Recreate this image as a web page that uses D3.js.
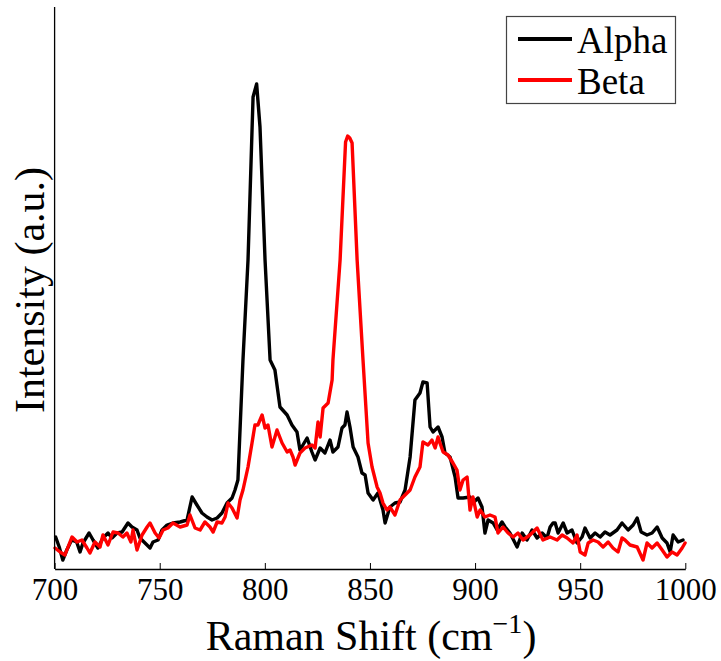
<!DOCTYPE html>
<html><head><meta charset="utf-8">
<script src="https://cdn.jsdelivr.net/npm/d3@7"></script>
<style>
html,body{margin:0;padding:0;background:#fff;}
svg{display:block;}
text{font-family:"Liberation Serif","DejaVu Serif",serif;fill:#000;}
</style></head>
<body>
<svg id="chart" width="721" height="661"></svg>
<script>
// Raman shift (cm^-1) and intensity (a.u.)
const alphaShift = [700.5,702.2,703.9,705.8,708.1,710.5,712.1,713.5,716.4,718.3,720.6,723.0,725.4,727.3,729.7,732.1,734.9,736.8,739.2,740.6,743.0,745.4,746.8,749.2,751.1,753.5,756.3,759.7,763.0,765.4,767.7,770.1,772.5,774.9,777.3,779.6,782.0,784.4,785.8,787.2,789.6,792.0,794.4,796.1,797.7,800.1,802.5,804.8,807.2,810.6,812.9,815.3,816.7,820.1,822.4,823.9,826.3,828.6,831.0,832.4,834.8,836.7,838.1,839.1,840.5,842.0,844.3,846.2,847.7,849.1,851.5,853.8,856.2,857.2,859.5,861.9,864.3,866.7,869.1,871.4,873.8,875.2,877.2,878.6,880.0,882.4,884.3,885.7,888.1,890.5,891.9,894.3,897.6,899.0,901.4,903.3,904.7,906.2,908.6,910.5,912.8,914.3,916.6,920.0,922.4,924.7,927.1,929.5,931.9,934.2,935.7,937.1,938.1,939.5,941.9,943.8,946.1,948.5,950.9,952.3,954.7,957.1,959.5,961.8,964.2,967.5,969.9,972.8,975.2,977.1,979.0,981.8,984.2,986.6,989.0,991.3,992.8,994.2,996.6,998.9];
const alphaIntensity = [32,22,9,19,29,27,17,26,36,29,21,31,36,31,36,37,46,42,39,31,26,21,27,29,39,44,46,47,49,72,64,56,52,49,51,56,66,71,79,89,209,309,472,485,442,309,209,199,162,154,144,137,119,131,117,109,121,116,129,117,122,141,144,157,142,122,112,96,94,76,69,76,59,46,62,66,67,79,112,169,176,187,186,142,137,142,132,116,112,92,71,71,72,66,71,62,36,49,46,39,47,42,36,22,36,29,39,31,36,31,42,46,46,36,46,36,39,26,32,41,31,36,32,37,34,39,46,39,44,51,37,34,36,42,31,26,17,34,27,29];

const betaShift = [700.2,702.6,704.9,706.4,708.3,710.7,713.0,715.4,716.8,719.2,721.6,723.0,725.4,727.8,730.2,732.5,734.4,736.3,737.3,739.2,741.6,744.0,745.4,747.8,749.7,751.6,753.9,756.3,759.7,763.0,764.4,766.8,769.2,771.5,773.9,775.4,777.3,779.6,781.1,782.5,784.4,786.8,788.2,789.6,792.0,793.9,795.3,796.7,798.7,800.1,801.5,803.4,805.8,808.2,810.6,812.0,813.4,814.4,816.7,819.1,822.4,823.9,825.3,826.3,827.7,830.1,832.0,832.4,835.8,838.4,839.4,840.4,841.5,843.9,846.7,849.1,851.0,853.4,854.8,856.2,858.1,859.5,861.9,864.3,866.7,869.1,871.4,873.8,875.2,877.6,879.5,881.0,882.4,883.3,884.8,887.1,889.5,891.4,892.8,894.3,896.2,897.6,899.0,901.0,902.4,904.7,907.1,909.5,910.9,913.3,915.7,918.1,920.4,922.8,926.1,929.5,932.3,935.7,939.0,941.4,943.8,946.6,948.5,950.0,952.3,953.8,956.1,958.5,960.9,963.3,965.6,968.0,969.9,971.3,973.7,977.1,979.9,981.8,984.2,986.6,989.0,991.3,993.7,996.1,998.5,999.9];
const betaIntensity = [21,17,14,22,32,27,29,21,16,27,22,34,24,37,36,32,36,27,39,19,34,42,46,36,31,39,41,46,42,44,54,41,39,47,42,37,47,46,52,66,61,51,69,79,102,126,144,144,154,141,144,122,139,126,117,119,112,104,116,121,124,121,147,132,161,166,189,209,309,427,433,431,426,309,209,126,102,82,76,66,59,62,54,69,74,79,92,102,127,124,129,121,132,126,117,114,106,99,79,89,92,59,72,52,59,52,54,52,36,42,36,32,36,29,34,41,29,32,29,34,31,26,34,17,14,26,29,27,22,27,21,17,31,29,24,22,9,26,21,26,19,12,17,14,21,26];

const xTicks = [700,750,800,850,900,950,1000];
const seriesNames = ["Alpha","Beta"];
const seriesColors = ["#000000","#ff0000"];

const svg = d3.select("#chart");
const x = d3.scaleLinear().domain([700,1000]).range([54.6,685.3]);
const y = d3.scaleLinear().domain([0,562]).range([569,7]);

const line = d3.line().x(d=>x(d[0])).y(d=>y(d[1]));
const series = [
  d3.zip(alphaShift, alphaIntensity),
  d3.zip(betaShift, betaIntensity)
];
series.forEach((s,i)=>{
  svg.append("path").datum(s)
    .attr("d", line)
    .attr("fill","none")
    .attr("stroke", seriesColors[i])
    .attr("stroke-width",3.4)
    .attr("stroke-linejoin","round")
    .attr("stroke-linecap","round");
});

// x axis (ticks inside)
const xAxis = d3.axisBottom(x).tickValues(xTicks).tickSize(-6).tickSizeOuter(0).tickPadding(9).tickFormat(d3.format("d"));
const gx = svg.append("g").attr("transform","translate(0,569)").call(xAxis);
gx.attr("font-family",null);
gx.select(".domain").attr("stroke","#000").attr("stroke-width",1.3);
gx.selectAll(".tick line").attr("stroke","#000").attr("stroke-width",1);
gx.selectAll(".tick text").attr("font-size",31).attr("fill","#000");

// y axis line only
svg.append("line").attr("x1",x(700)).attr("x2",x(700)).attr("y1",y(562)).attr("y2",y(0))
  .attr("stroke","#000").attr("stroke-width",1.3);

// axis labels
const xl = svg.append("text").attr("x",371).attr("y",650).attr("text-anchor","middle").attr("font-size",42);
xl.append("tspan").text("Raman Shift (cm");
xl.append("tspan").attr("dy",-17).attr("font-size",28).text("\u22121");
xl.append("tspan").attr("dy",17).text(")");

svg.append("text").attr("transform","translate(44,290) rotate(-90)")
  .attr("text-anchor","middle").attr("font-size",42).text("Intensity (a.u.)");

// legend
const lg = svg.append("g");
lg.append("rect").attr("x",506.5).attr("y",16.5).attr("width",169).attr("height",87)
  .attr("fill","#fff").attr("stroke","#444").attr("stroke-width",1.2);
seriesNames.forEach((n,i)=>{
  const yy = 39 + i*41;
  lg.append("line").attr("x1",518).attr("x2",572).attr("y1",yy).attr("y2",yy)
    .attr("stroke",seriesColors[i]).attr("stroke-width",4);
  lg.append("text").attr("x",577).attr("y",yy+14).attr("font-size",37).text(n);
});
</script>
</body></html>
